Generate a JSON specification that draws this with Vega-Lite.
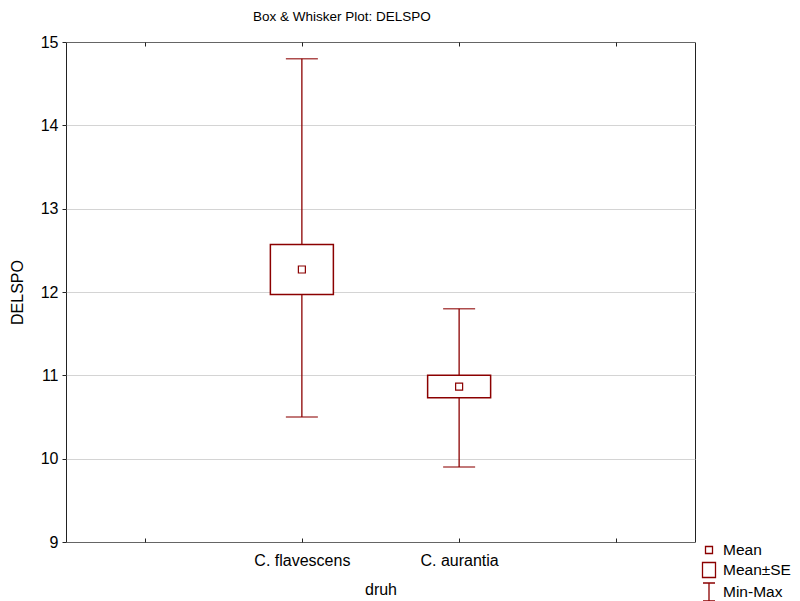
{
  "$schema": "https://vega.github.io/schema/vega-lite/v6.json",
  "width": 629,
  "height": 500,
  "autosize": {"type": "none"},
  "padding": {"left": 66, "top": 42, "right": 105, "bottom": 59},
  "background": "white",
  "config": {
    "font": "Liberation Sans",
    "view": {"stroke": "#222", "strokeWidth": 1},
    "axis": {"labelFont": "Liberation Sans", "titleFont": "Liberation Sans", "labelColor": "black", "titleColor": "black", "titleFontWeight": "normal", "labelFontSize": 16, "titleFontSize": 16},
    "legend": {"labelFont": "Liberation Sans", "labelFontSize": 15.5, "labelColor": "black"}
  },
  "title": {"text": "Box & Whisker Plot: DELSPO", "anchor": "start", "frame": "group", "dx": 187, "offset": 11, "fontSize": 13.5, "fontWeight": "normal", "font": "Liberation Sans", "color": "black"},
  "data": {"values": [
    {"druh": "C. flavescens", "mean": 12.27, "se_lo": 11.97, "se_hi": 12.57, "min": 10.5, "max": 14.8},
    {"druh": "C. aurantia", "mean": 10.865, "se_lo": 10.73, "se_hi": 11.0, "min": 9.9, "max": 11.8}
  ]},
  "resolve": {"axis": {"x": "independent", "y": "independent"}},
  "layer": [
    {
      "mark": {"type": "rule", "color": "#8b0000", "strokeWidth": 1.3},
      "encoding": {
        "x": {"field": "druh", "type": "nominal", "sort": null,
          "scale": {"type": "point", "domain": ["_a", "C. flavescens", "C. aurantia", "_b"], "padding": 0.5},
          "axis": {"title": "druh", "labelAngle": 0, "labelExpr": "datum.value[0] == '_' ? '' : datum.value", "domain": false, "tickColor": "#222", "tickSize": -4, "labelPadding": 14, "titlePadding": 13, "grid": false}
        },
        "y": {"field": "min", "type": "quantitative",
          "scale": {"domain": [9, 15], "nice": false, "zero": false},
          "axis": {"title": "DELSPO", "values": [9, 10, 11, 12, 13, 14, 15], "format": "d", "domain": false, "tickColor": "#222", "tickSize": 4, "labelPadding": 4, "titlePadding": 15,
            "grid": true, "gridColor": "#a8a8a8", "gridDash": [1, 1], "gridWidth": 1}},
        "y2": {"field": "max"}
      }
    },
    {
      "mark": {"type": "tick", "orient": "horizontal", "color": "#8b0000", "size": 32, "thickness": 1.5},
      "encoding": {
        "x": {"field": "druh", "type": "nominal", "sort": null,
          "axis": {"orient": "top", "title": null, "labels": false, "domain": false, "tickColor": "#222", "tickSize": -4, "grid": false}},
        "y": {"field": "min", "type": "quantitative", "axis": null}
      }
    },
    {
      "mark": {"type": "tick", "orient": "horizontal", "color": "#8b0000", "size": 32, "thickness": 1.5},
      "encoding": {
        "x": {"field": "druh", "type": "nominal", "sort": null, "axis": null},
        "y": {"field": "max", "type": "quantitative", "axis": null}
      }
    },
    {
      "mark": {"type": "bar", "width": 63, "fill": "white", "stroke": "#8b0000", "strokeWidth": 1.5},
      "encoding": {
        "x": {"field": "druh", "type": "nominal", "sort": null, "axis": null},
        "y": {"field": "se_lo", "type": "quantitative", "axis": null},
        "y2": {"field": "se_hi"}
      }
    },
    {
      "mark": {"type": "point", "filled": false, "color": "#8b0000", "strokeWidth": 1.2, "size": 400, "opacity": 1},
      "encoding": {
        "x": {"field": "druh", "type": "nominal", "sort": null, "axis": null},
        "y": {"field": "mean", "type": "quantitative", "axis": null},
        "shape": {"datum": "Mean", "type": "nominal",
          "scale": {"domain": ["Mean", "Mean±SE", "Min-Max"],
            "range": ["M-0.35,-0.35H0.35V0.35H-0.35Z", "M-0.65,-0.75H0.65V0.75H-0.65Z", "M-0.6,-0.9H0.6M0,-0.9V0.9M-0.6,0.9H0.6"]},
          "legend": {"title": null, "orient": "none", "legendX": 632, "legendY": 497, "symbolSize": 400, "symbolStrokeColor": "#8b0000", "symbolFillColor": "transparent", "symbolStrokeWidth": 1.3, "rowPadding": -2, "symbolOffset": 0, "labelOffset": 3, "padding": 0}
        }
      }
    }
  ]
}
